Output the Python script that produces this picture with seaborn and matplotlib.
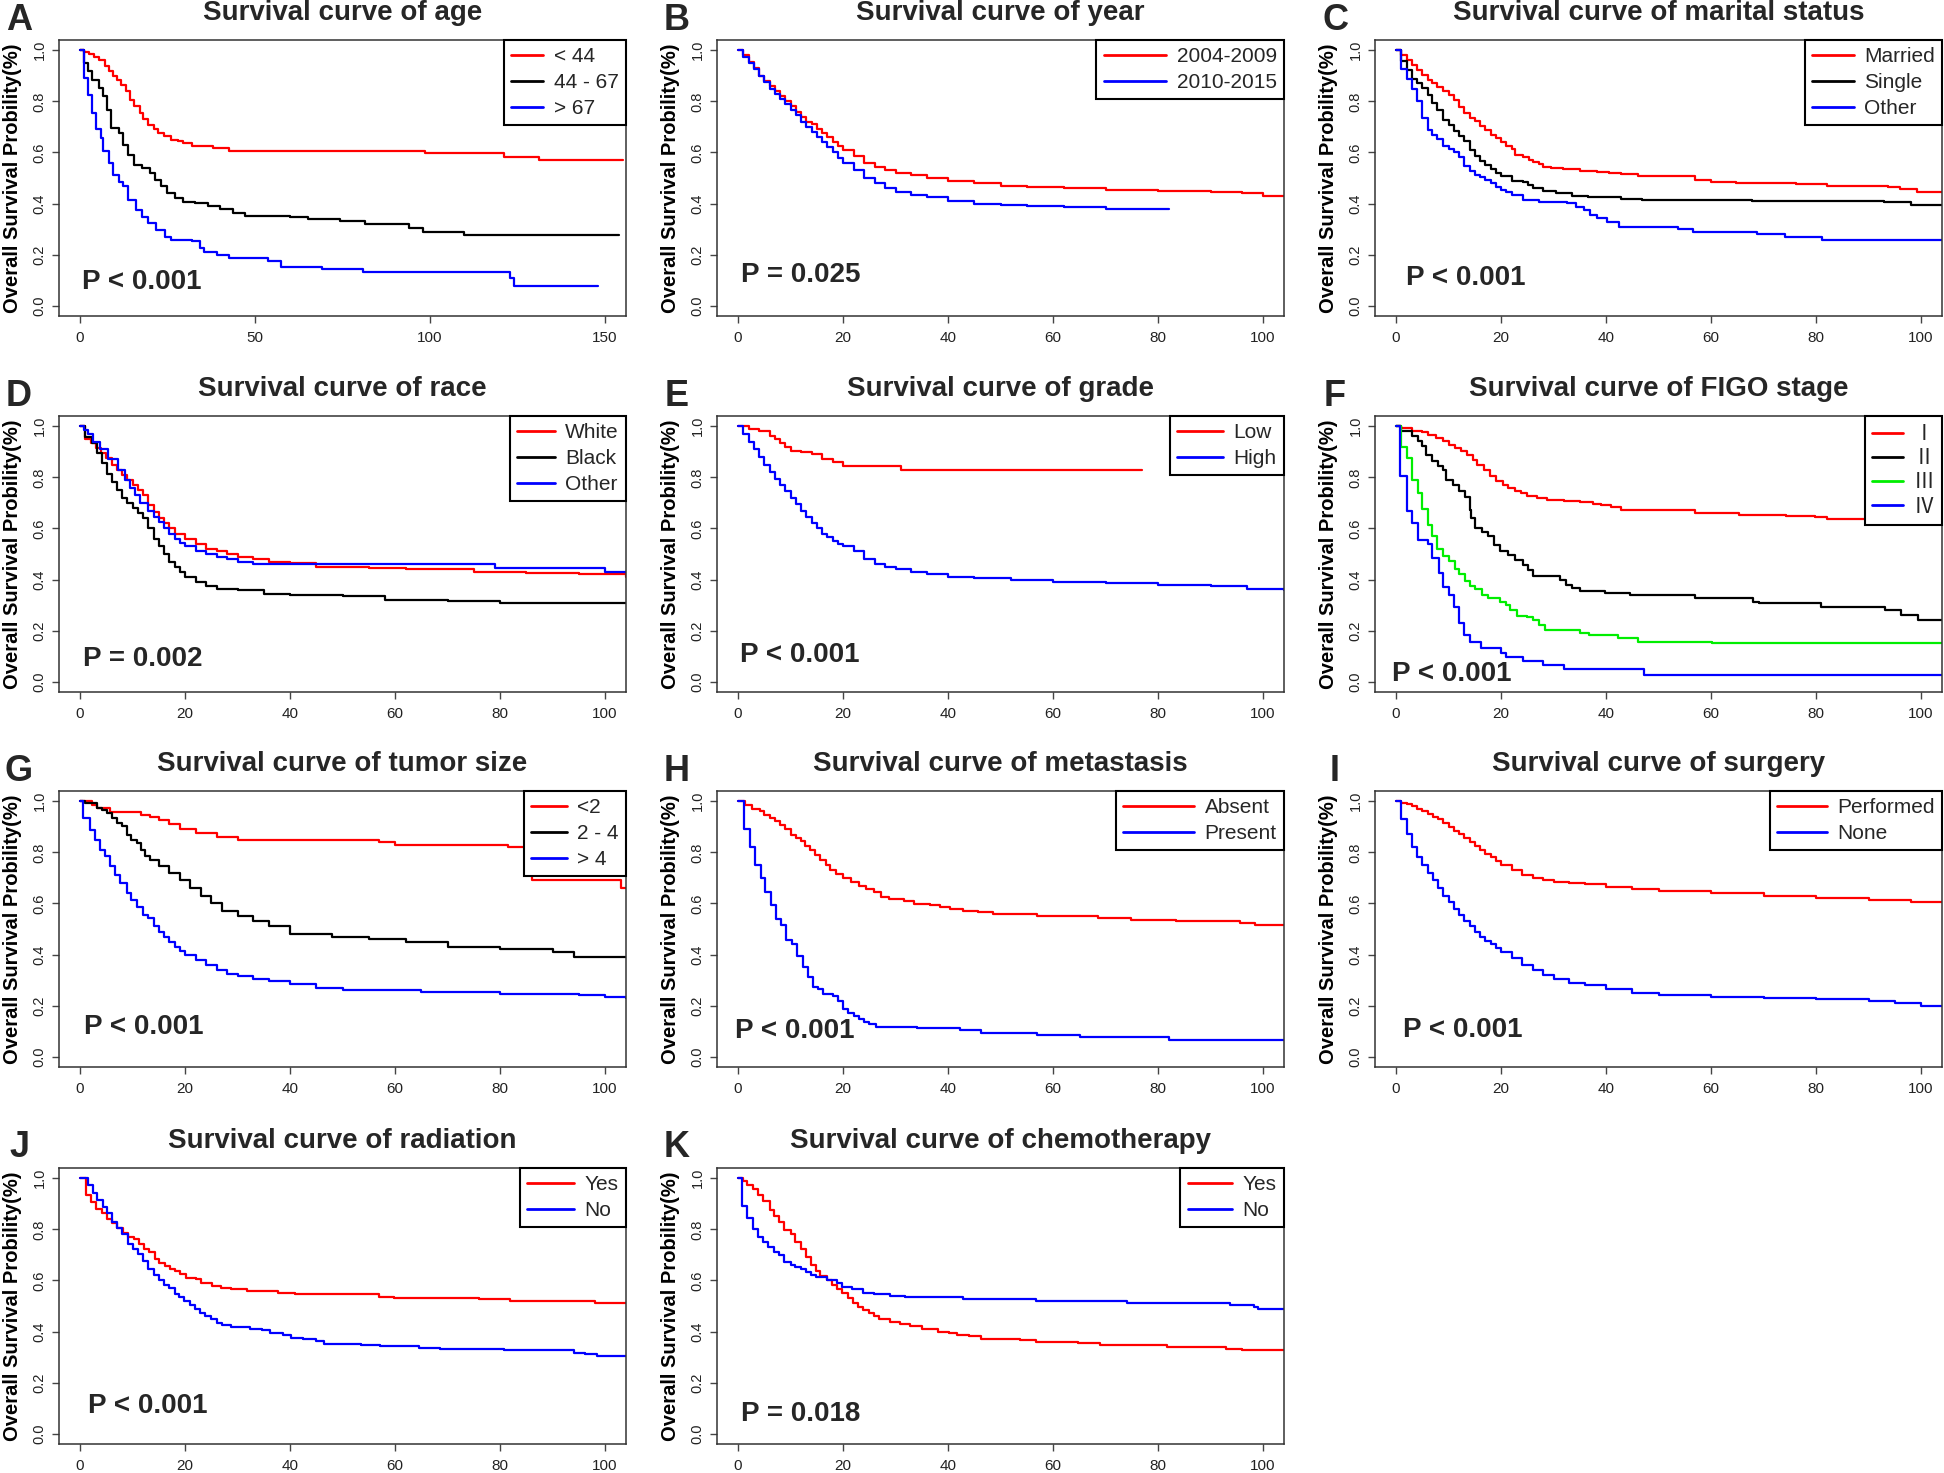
import matplotlib
matplotlib.use('Agg')
import matplotlib.pyplot as plt
from matplotlib import font_manager
from matplotlib.lines import Line2D
import seaborn as sns
import pandas as pd

# ===============================
# DATA
# ===============================
# A - age
age_lt44_t = [0, 1, 2.5, 4, 5.5, 7, 8.3, 9.5, 10.7, 11.8, 13, 14.2, 15.5, 17, 18, 19.5, 21, 22.4, 24, 26, 28, 29.5, 32, 38, 42.5, 60, 98.6, 121, 131, 155]
age_lt44_s = [1.0, 0.995, 0.985, 0.975, 0.96, 0.94, 0.918, 0.9, 0.885, 0.865, 0.84, 0.806, 0.78, 0.754, 0.73, 0.708, 0.69, 0.676, 0.665, 0.65, 0.643, 0.637, 0.624, 0.617, 0.607, 0.604, 0.597, 0.584, 0.571, 0.571]
age_mid_t = [0, 1.2, 2.4, 3.5, 5.3, 6.5, 7.7, 8.9, 11.2, 12.4, 13.6, 15.3, 17.7, 20, 21.3, 23, 24.8, 27.2, 29.5, 32.8, 36.6, 40, 43.7, 47.2, 60, 65, 74.4, 81.5, 93.9, 98, 109.8, 154]
age_mid_s = [1.0, 0.95, 0.918, 0.885, 0.852, 0.82, 0.767, 0.695, 0.676, 0.63, 0.59, 0.552, 0.539, 0.519, 0.493, 0.467, 0.44, 0.42, 0.408, 0.401, 0.39, 0.378, 0.365, 0.352, 0.346, 0.339, 0.33, 0.32, 0.303, 0.29, 0.277, 0.277]
age_gt67_t = [0, 1.2, 2.4, 3.5, 4.7, 5.9, 6.5, 8.3, 9.4, 11.2, 12.4, 13.6, 15.9, 17.7, 19.5, 21.8, 24.2, 26, 31.9, 34.3, 35.4, 39, 42.5, 53.7, 57.3, 69, 80.9, 122.8, 124, 148]
age_gt67_s = [1.0, 0.89, 0.826, 0.754, 0.69, 0.656, 0.604, 0.558, 0.512, 0.486, 0.467, 0.414, 0.375, 0.349, 0.323, 0.297, 0.27, 0.258, 0.255, 0.225, 0.212, 0.199, 0.186, 0.176, 0.153, 0.142, 0.133, 0.107, 0.078, 0.078]

# B - year
yr_0409_t = [0, 1, 2, 3, 4, 5, 6, 7, 8, 9, 10, 11, 12, 13, 14, 15, 16, 17, 18, 19, 20, 22, 24, 26, 28, 30, 33, 36, 40, 45, 50, 55, 62, 70, 80, 90, 96, 100, 104]
yr_0409_s = [1.0, 0.98, 0.955, 0.93, 0.9, 0.88, 0.86, 0.84, 0.82, 0.8, 0.78, 0.76, 0.74, 0.72, 0.71, 0.69, 0.675, 0.66, 0.64, 0.625, 0.61, 0.585, 0.56, 0.545, 0.53, 0.52, 0.51, 0.5, 0.49, 0.48, 0.47, 0.465, 0.46, 0.455, 0.45, 0.445, 0.44, 0.43, 0.43]
yr_1015_t = [0, 1, 2, 3, 4, 5, 6, 7, 8, 9, 10, 11, 12, 13, 14, 15, 16, 17, 18, 19, 20, 22, 24, 26, 28, 30, 33, 36, 40, 45, 50, 55, 62, 70, 82]
yr_1015_s = [1.0, 0.975, 0.95, 0.925, 0.9, 0.875, 0.85, 0.83, 0.81, 0.79, 0.765, 0.745, 0.72, 0.7, 0.68, 0.66, 0.64, 0.62, 0.6, 0.58, 0.56, 0.53, 0.5, 0.48, 0.46, 0.445, 0.435, 0.425, 0.41, 0.4, 0.395, 0.39, 0.385, 0.38, 0.38]

# C - marital status
mar_married_t = [0, 1, 2, 3, 4, 5, 6, 6.9, 7.9, 8.9, 10, 11, 12, 13, 14, 15, 16, 17, 18, 19, 20, 21, 22, 22.7, 24.1, 25.3, 26, 27.2, 28, 29.6, 31.9, 35, 38.2, 40.5, 42.9, 46, 57, 60, 64.8, 76.1, 82, 93.7, 96, 99.2, 104]
mar_married_s = [1.0, 0.983, 0.963, 0.944, 0.924, 0.905, 0.885, 0.872, 0.856, 0.839, 0.826, 0.807, 0.778, 0.754, 0.735, 0.722, 0.702, 0.689, 0.669, 0.656, 0.639, 0.624, 0.614, 0.591, 0.582, 0.571, 0.562, 0.556, 0.545, 0.541, 0.535, 0.526, 0.523, 0.519, 0.516, 0.506, 0.493, 0.486, 0.48, 0.476, 0.469, 0.464, 0.456, 0.447, 0.447]
mar_single_t = [0, 1, 2, 3, 4, 5, 6, 6.9, 7.9, 8.9, 10, 11, 12, 13, 14, 15, 16, 17, 18, 19, 20, 22, 24.1, 25.1, 26, 28, 30.4, 33.5, 36.6, 40.5, 42.9, 46.8, 67.9, 92.9, 98, 104]
mar_single_s = [1.0, 0.957, 0.922, 0.889, 0.872, 0.852, 0.826, 0.793, 0.765, 0.728, 0.706, 0.682, 0.663, 0.643, 0.608, 0.585, 0.565, 0.549, 0.536, 0.519, 0.506, 0.489, 0.483, 0.471, 0.46, 0.45, 0.443, 0.431, 0.427, 0.425, 0.418, 0.414, 0.41, 0.405, 0.395, 0.395]
mar_other_t = [0, 1, 2, 3, 4, 5, 6, 6.9, 7.9, 8.9, 10, 11, 12, 13, 14, 15, 16, 17, 18, 19, 20, 21, 22, 24.1, 27.2, 32.6, 34.3, 35.8, 37, 38.2, 40.1, 42.5, 53.8, 56.6, 68.7, 74.1, 81.2, 104]
mar_other_s = [1.0, 0.927, 0.889, 0.85, 0.803, 0.735, 0.686, 0.669, 0.652, 0.624, 0.614, 0.6, 0.582, 0.546, 0.526, 0.513, 0.502, 0.491, 0.48, 0.463, 0.454, 0.445, 0.435, 0.415, 0.405, 0.401, 0.388, 0.375, 0.356, 0.342, 0.329, 0.31, 0.299, 0.29, 0.279, 0.268, 0.258, 0.258]

# D - race
race_white_t = [0, 1, 2, 3, 4, 5, 6, 7, 8, 9, 10, 11, 12, 13, 14, 15, 16, 17, 18, 20, 22, 24, 26, 28, 30, 33, 36, 40, 45, 55, 62, 75, 85, 95, 104]
race_white_s = [1.0, 0.95, 0.933, 0.914, 0.895, 0.875, 0.85, 0.829, 0.81, 0.79, 0.77, 0.75, 0.73, 0.69, 0.665, 0.64, 0.62, 0.6, 0.58, 0.56, 0.54, 0.52, 0.51, 0.5, 0.49, 0.48, 0.47, 0.465, 0.45, 0.445, 0.44, 0.43, 0.425, 0.42, 0.41]
race_black_t = [0, 1, 2.2, 3.2, 4.2, 5.2, 6, 7, 8, 9, 10, 11, 12, 13, 14, 15, 16, 17, 18, 19, 20, 22, 24, 26, 30, 35, 40, 50, 58, 70, 80, 104]
race_black_s = [1.0, 0.958, 0.933, 0.894, 0.855, 0.815, 0.78, 0.75, 0.72, 0.7, 0.68, 0.66, 0.64, 0.6, 0.56, 0.53, 0.5, 0.47, 0.45, 0.43, 0.41, 0.39, 0.375, 0.365, 0.36, 0.345, 0.34, 0.335, 0.32, 0.318, 0.31, 0.31]
race_other_t = [0, 0.7, 1.6, 2.5, 3.8, 5.4, 7.3, 8.5, 9.5, 10.5, 11.5, 12.9, 14, 15, 16, 17, 18, 19, 20, 22, 24, 26, 28, 30, 33, 79, 100, 104]
race_other_s = [1.0, 0.984, 0.97, 0.94, 0.91, 0.87, 0.83, 0.79, 0.76, 0.73, 0.7, 0.67, 0.645, 0.625, 0.6, 0.58, 0.56, 0.545, 0.53, 0.51, 0.5, 0.49, 0.48, 0.47, 0.46, 0.445, 0.43, 0.43]

# E - grade
grade_low_t = [0, 2, 4, 6, 7, 8, 9, 10, 12, 14, 16, 18, 20, 31, 77]
grade_low_s = [1.0, 0.99, 0.98, 0.96, 0.95, 0.935, 0.92, 0.905, 0.9, 0.89, 0.87, 0.86, 0.845, 0.827, 0.827]
grade_high_t = [0, 1, 2, 3, 4, 5, 6, 7, 8, 9, 10, 11, 12, 13, 14, 15, 16, 17, 18, 19, 20, 22, 24, 26, 28, 30, 33, 36, 40, 45, 52, 60, 70, 80, 90, 97, 104]
grade_high_s = [1.0, 0.97, 0.94, 0.91, 0.88, 0.85, 0.82, 0.795, 0.77, 0.745, 0.72, 0.695, 0.67, 0.645, 0.62, 0.6, 0.58, 0.565, 0.55, 0.54, 0.53, 0.51, 0.48, 0.46, 0.45, 0.44, 0.43, 0.42, 0.41, 0.405, 0.4, 0.39, 0.385, 0.38, 0.375, 0.365, 0.36]

# F - FIGO stage
figo1_t = [0, 1, 3, 5, 6, 7.7, 8.9, 10, 11.2, 12.4, 13.6, 14.7, 15.5, 16.7, 17.9, 19, 20.3, 21.4, 22.6, 23.8, 24.9, 26.9, 28.8, 32, 35, 37.5, 39, 41, 42.9, 46, 57, 65.3, 74.3, 79.8, 82.1, 98.5, 104]
figo1_s = [1.0, 0.993, 0.983, 0.978, 0.967, 0.954, 0.944, 0.928, 0.915, 0.902, 0.889, 0.869, 0.85, 0.83, 0.804, 0.784, 0.771, 0.758, 0.745, 0.739, 0.728, 0.719, 0.712, 0.706, 0.703, 0.695, 0.69, 0.682, 0.673, 0.671, 0.66, 0.654, 0.65, 0.643, 0.637, 0.63, 0.63]
figo2_t = [0, 1, 3, 4.2, 5, 5.7, 6.9, 8, 8.9, 9.6, 10.8, 12, 13.2, 14, 14.3, 15.1, 16.3, 17.5, 18.7, 19.8, 21.4, 22.6, 24.1, 25.2, 26.1, 28.8, 31.2, 32.4, 33.5, 35.1, 39.8, 44.5, 57, 68, 69.1, 80.9, 93.1, 96.2, 99.4, 104]
figo2_s = [1.0, 0.98, 0.961, 0.941, 0.922, 0.889, 0.863, 0.843, 0.83, 0.791, 0.771, 0.745, 0.725, 0.673, 0.641, 0.601, 0.588, 0.569, 0.536, 0.51, 0.497, 0.477, 0.458, 0.438, 0.414, 0.412, 0.399, 0.379, 0.366, 0.357, 0.346, 0.34, 0.327, 0.314, 0.307, 0.294, 0.281, 0.261, 0.242, 0.242]
figo3_t = [0, 1, 2, 3.1, 4.2, 5, 6, 6.9, 7.9, 8.9, 10, 11.2, 12, 13.2, 14.1, 15.1, 16.3, 17.5, 19.8, 21, 21.8, 23, 24.9, 26.1, 27.3, 28.4, 35.1, 36.7, 42.2, 46, 60.2, 104]
figo3_s = [1.0, 0.919, 0.876, 0.791, 0.739, 0.676, 0.614, 0.571, 0.519, 0.493, 0.473, 0.44, 0.422, 0.396, 0.373, 0.362, 0.34, 0.327, 0.314, 0.301, 0.281, 0.259, 0.255, 0.242, 0.222, 0.203, 0.192, 0.183, 0.17, 0.157, 0.15, 0.15]
figo4_t = [0, 0.8, 2, 3.1, 4.2, 6.1, 6.9, 8.1, 8.9, 10, 11, 12, 13, 14.1, 16.1, 20, 21, 24.1, 28, 32, 47.3, 104]
figo4_s = [1.0, 0.804, 0.667, 0.621, 0.553, 0.54, 0.484, 0.425, 0.37, 0.34, 0.294, 0.229, 0.183, 0.157, 0.131, 0.111, 0.098, 0.082, 0.065, 0.05, 0.026, 0.026]

# G - tumor size
size_lt2_t = [0, 2.2, 3.2, 5.7, 11.7, 13.3, 15, 17, 19, 22, 26, 30, 57, 60, 81.5, 86, 103, 104]
size_lt2_s = [1.0, 0.987, 0.974, 0.958, 0.948, 0.937, 0.925, 0.91, 0.89, 0.875, 0.86, 0.85, 0.84, 0.83, 0.82, 0.69, 0.66, 0.66]
size_mid_t = [0, 1, 3.2, 4.1, 5.1, 6, 7, 8, 8.9, 9.8, 10.8, 11.7, 12.4, 13.3, 15, 17, 19, 21, 23, 25, 27, 30, 33, 36, 40, 48, 55, 62, 70, 80, 90, 94, 104]
size_mid_s = [1.0, 0.993, 0.974, 0.967, 0.954, 0.935, 0.915, 0.902, 0.869, 0.85, 0.837, 0.81, 0.784, 0.771, 0.745, 0.72, 0.69, 0.66, 0.63, 0.6, 0.57, 0.55, 0.53, 0.51, 0.48, 0.47, 0.46, 0.45, 0.43, 0.42, 0.41, 0.39, 0.39]
size_gt4_t = [0, 0.6, 1.9, 2.9, 3.8, 4.8, 5.7, 6.7, 7.6, 8.9, 9.8, 10.8, 12, 13, 14, 15, 16, 17, 18, 19, 20, 22, 24, 26, 28, 30, 33, 36, 40, 45, 50, 65, 80, 95, 100, 104]
size_gt4_s = [1.0, 0.935, 0.889, 0.85, 0.81, 0.784, 0.745, 0.712, 0.68, 0.64, 0.614, 0.588, 0.556, 0.542, 0.51, 0.49, 0.47, 0.45, 0.43, 0.415, 0.4, 0.38, 0.36, 0.34, 0.325, 0.315, 0.305, 0.295, 0.285, 0.27, 0.26, 0.255, 0.245, 0.24, 0.235, 0.23]

# H - metastasis
met_absent_t = [0, 1.4, 2.6, 4.1, 5, 6, 7, 8, 9, 10, 11, 12, 12.8, 13.8, 14.7, 15.7, 16.7, 17.6, 18.6, 20, 21.5, 23, 24.4, 25.9, 27.3, 28.8, 31.7, 33.6, 36.5, 38.5, 40.4, 42.8, 45.7, 48.6, 56.9, 68.5, 74.8, 83.5, 95.6, 98.5, 104]
met_absent_s = [1.0, 0.984, 0.971, 0.961, 0.948, 0.935, 0.922, 0.908, 0.891, 0.869, 0.856, 0.843, 0.824, 0.81, 0.791, 0.771, 0.752, 0.732, 0.716, 0.699, 0.682, 0.667, 0.656, 0.643, 0.627, 0.617, 0.608, 0.599, 0.592, 0.586, 0.578, 0.571, 0.565, 0.559, 0.552, 0.542, 0.536, 0.532, 0.525, 0.516, 0.516]
met_present_t = [0, 1.2, 2.3, 3.3, 4.4, 5.2, 6.2, 7.2, 8.2, 9.1, 10.2, 11.2, 12.3, 13.3, 14.2, 15.2, 16.2, 18.1, 19.1, 20, 21, 22, 23, 24, 25, 26.3, 34.1, 42.3, 46.2, 56.9, 65.1, 82, 104]
met_present_s = [1.0, 0.891, 0.821, 0.749, 0.699, 0.643, 0.595, 0.539, 0.516, 0.458, 0.442, 0.395, 0.35, 0.314, 0.275, 0.264, 0.246, 0.238, 0.22, 0.186, 0.17, 0.16, 0.146, 0.137, 0.128, 0.118, 0.111, 0.105, 0.092, 0.086, 0.078, 0.065, 0.065]

# I - surgery
surg_yes_t = [0, 1, 2, 3, 4, 5, 6, 7, 8, 9, 10, 11, 12, 13, 14, 15, 16, 17, 18, 19, 20, 22, 24, 26, 28, 30, 33, 36, 40, 45, 50, 60, 70, 80, 90, 98, 104]
surg_yes_s = [1.0, 0.995, 0.99, 0.98, 0.97, 0.96, 0.95, 0.94, 0.93, 0.915, 0.9, 0.885, 0.87, 0.855, 0.84, 0.825, 0.81, 0.795, 0.78, 0.765, 0.75, 0.73, 0.71, 0.7, 0.69, 0.685, 0.68, 0.675, 0.665, 0.655, 0.65, 0.64, 0.63, 0.62, 0.615, 0.605, 0.605]
surg_no_t = [0, 1, 2, 3, 4, 5, 6, 7, 8, 9, 10, 11, 12, 13, 14, 15, 16, 17, 18, 19, 20, 22, 24, 26, 28, 30, 33, 36, 40, 45, 50, 60, 70, 80, 90, 95, 100, 104]
surg_no_s = [1.0, 0.93, 0.87, 0.82, 0.78, 0.75, 0.72, 0.69, 0.66, 0.63, 0.605, 0.58, 0.555, 0.53, 0.51, 0.49, 0.47, 0.455, 0.44, 0.425, 0.41, 0.385, 0.36, 0.34, 0.32, 0.305, 0.29, 0.28, 0.265, 0.25, 0.24, 0.235, 0.23, 0.225, 0.22, 0.21, 0.2, 0.2]

# J - radiation
rad_yes_t = [0, 1.2, 2.1, 3.1, 4.2, 5.1, 6.1, 7.1, 8.1, 9.1, 10.2, 11.2, 12.2, 13.1, 14.2, 15.1, 16.1, 17.2, 18.1, 19.1, 20.1, 22, 23.1, 25.2, 26.8, 28.7, 31.9, 37.8, 40.9, 56.9, 59.8, 76, 81.9, 98, 104]
rad_yes_s = [1.0, 0.933, 0.907, 0.881, 0.864, 0.842, 0.825, 0.805, 0.786, 0.77, 0.764, 0.742, 0.722, 0.711, 0.685, 0.668, 0.655, 0.646, 0.636, 0.627, 0.61, 0.604, 0.59, 0.578, 0.572, 0.565, 0.557, 0.552, 0.548, 0.535, 0.531, 0.526, 0.52, 0.513, 0.513]
rad_no_t = [0, 1.6, 2.4, 3.3, 4.3, 5.1, 6.1, 7.1, 8, 9.1, 10.1, 11, 12, 13, 14, 15, 16, 16.9, 18, 18.9, 19.9, 20.9, 21.9, 22.9, 23.9, 24.9, 26, 27, 28.8, 32.3, 34.6, 36.2, 38.6, 40.2, 42.5, 44.9, 46.5, 53.5, 57.1, 64.6, 68.5, 80.7, 94.1, 96.1, 98.4, 104]
rad_no_s = [1.0, 0.973, 0.943, 0.914, 0.888, 0.862, 0.829, 0.805, 0.781, 0.744, 0.722, 0.702, 0.676, 0.646, 0.623, 0.601, 0.581, 0.57, 0.548, 0.535, 0.52, 0.503, 0.487, 0.474, 0.461, 0.448, 0.433, 0.427, 0.418, 0.411, 0.405, 0.396, 0.385, 0.376, 0.371, 0.363, 0.352, 0.346, 0.342, 0.337, 0.333, 0.326, 0.317, 0.311, 0.303, 0.303]

# K - chemotherapy
chemo_yes_t = [0, 1, 1.8, 2.9, 3.9, 4.8, 6, 6.9, 7.8, 8.8, 10, 10.9, 12, 12.9, 13.9, 14.8, 15.7, 16.9, 17.9, 18.9, 19.9, 20.9, 21.9, 22.9, 23.9, 24.9, 25.9, 26.9, 28.9, 30.8, 32.7, 35, 38, 40.2, 41.7, 44, 46.3, 53.8, 56.8, 59.8, 64.7, 68.9, 81.7, 93, 96, 104]
chemo_yes_s = [1.0, 0.99, 0.974, 0.956, 0.936, 0.909, 0.877, 0.851, 0.828, 0.798, 0.78, 0.75, 0.724, 0.691, 0.661, 0.635, 0.619, 0.602, 0.583, 0.565, 0.55, 0.532, 0.512, 0.495, 0.485, 0.473, 0.46, 0.45, 0.439, 0.43, 0.42, 0.411, 0.4, 0.394, 0.387, 0.381, 0.372, 0.365, 0.361, 0.359, 0.356, 0.348, 0.339, 0.332, 0.326, 0.326]
chemo_no_t = [0, 0.7, 1.8, 2.8, 3.8, 4.8, 5.8, 6.9, 7.8, 8.8, 10, 10.9, 12, 12.9, 13.9, 14.8, 16.9, 18.9, 19.9, 21.8, 23.9, 25.9, 28.9, 31.9, 42.9, 56.8, 74, 93.7, 98.3, 99, 104]
chemo_no_s = [1.0, 0.89, 0.845, 0.8, 0.769, 0.75, 0.73, 0.71, 0.698, 0.671, 0.662, 0.652, 0.643, 0.632, 0.622, 0.613, 0.6, 0.589, 0.576, 0.565, 0.551, 0.548, 0.538, 0.535, 0.528, 0.518, 0.511, 0.505, 0.495, 0.489, 0.489]

titles = ['Survival curve of age', 'Survival curve of year', 'Survival curve of marital status',
          'Survival curve of race', 'Survival curve of grade', 'Survival curve of FIGO stage',
          'Survival curve of tumor size', 'Survival curve of metastasis', 'Survival curve of surgery',
          'Survival curve of radiation', 'Survival curve of chemotherapy']
letters = ['A', 'B', 'C', 'D', 'E', 'F', 'G', 'H', 'I', 'J', 'K']
pvalues = ['P < 0.001', 'P = 0.025', 'P < 0.001', 'P = 0.002', 'P < 0.001', 'P < 0.001',
           'P < 0.001', 'P < 0.001', 'P < 0.001', 'P < 0.001', 'P = 0.018']
group_labels = [['< 44', '44 - 67', '> 67'], ['2004-2009', '2010-2015'], ['Married', 'Single', 'Other'],
                ['White', 'Black', 'Other'], ['Low', 'High'], ['Ⅰ', 'Ⅱ', 'Ⅲ', 'Ⅳ'],
                ['<2', '2 - 4', '> 4'], ['Absent', 'Present'], ['Performed', 'None'],
                ['Yes', 'No'], ['Yes', 'No']]
curves = [
    [(age_lt44_t, age_lt44_s), (age_mid_t, age_mid_s), (age_gt67_t, age_gt67_s)],
    [(yr_0409_t, yr_0409_s), (yr_1015_t, yr_1015_s)],
    [(mar_married_t, mar_married_s), (mar_single_t, mar_single_s), (mar_other_t, mar_other_s)],
    [(race_white_t, race_white_s), (race_black_t, race_black_s), (race_other_t, race_other_s)],
    [(grade_low_t, grade_low_s), (grade_high_t, grade_high_s)],
    [(figo1_t, figo1_s), (figo2_t, figo2_s), (figo3_t, figo3_s), (figo4_t, figo4_s)],
    [(size_lt2_t, size_lt2_s), (size_mid_t, size_mid_s), (size_gt4_t, size_gt4_s)],
    [(met_absent_t, met_absent_s), (met_present_t, met_present_s)],
    [(surg_yes_t, surg_yes_s), (surg_no_t, surg_no_s)],
    [(rad_yes_t, rad_yes_s), (rad_no_t, rad_no_s)],
    [(chemo_yes_t, chemo_yes_s), (chemo_no_t, chemo_no_s)],
]

# ===============================
# LAYOUT / STYLE
# ===============================
RED, BLACK, GREEN, BLUE = '#FF0000', '#000000', '#00EE00', '#0000FF'
colors3 = [RED, BLACK, BLUE]
colors2 = [RED, BLUE]
panel_colors = [colors3, colors2, colors3, colors3, colors2, [RED, BLACK, GREEN, BLUE],
                colors3, colors2, colors2, colors2, colors2]
# position of the P-value text (data coords) and legend handle length
p_pos = [(0.5, 0.093), (0.5, 0.12), (2, 0.11), (0.6, 0.09), (0.3, 0.105), (-0.7, 0.03),
         (0.8, 0.115), (-0.6, 0.10), (1.4, 0.105), (1.5, 0.11), (0.5, 0.076)]
handle_len = [1.55, 3.0, 2.0, 1.8, 2.2, 1.5, 1.7, 3.4, 2.4, 2.25, 2.15]

W, H = 1944, 1473
col_left = [59, 717, 1375]
row_top = [40, 416, 791, 1168]
ax_w, ax_h = 567, 276

sns.set_theme(style='white')
available = {f.name for f in font_manager.fontManager.ttflist}
NARROW = 'Liberation Sans Narrow' if 'Liberation Sans Narrow' in available else 'Liberation Sans'
plt.rcParams['font.family'] = ['Liberation Sans', 'DejaVu Sans']

fig = plt.figure(figsize=(W / 100, H / 100), dpi=100)
fig.patch.set_facecolor('white')

for i in range(11):
    r, c = divmod(i, 3)
    ax = fig.add_axes([col_left[c] / W, 1 - (row_top[r] + ax_h) / H, ax_w / W, ax_h / H])

    labels = group_labels[i]
    rows = []
    for lab, (t, s) in zip(labels, curves[i]):
        for ti, si in zip(t, s):
            rows.append((lab, ti, si))
    df = pd.DataFrame(rows, columns=['group', 'time', 'surv'])

    sns.lineplot(data=df, x='time', y='surv', hue='group', hue_order=labels,
                 palette=panel_colors[i], estimator=None, sort=False,
                 drawstyle='steps-post', linewidth=1.6, legend=False, ax=ax)

    if i == 0:
        ax.set_xlim(-6, 156)
        ax.set_xticks([0, 50, 100, 150])
    else:
        ax.set_xlim(-4, 104)
        ax.set_xticks([0, 20, 40, 60, 80, 100])
    ax.set_ylim(-0.04, 1.04)
    ax.set_yticks([0, 0.2, 0.4, 0.6, 0.8, 1.0])
    ax.set_yticklabels(['0.0', '0.2', '0.4', '0.6', '0.8', '1.0'], rotation=90, va='center')
    for lbl in ax.get_xticklabels():
        lbl.set_family(NARROW)
        lbl.set_fontsize(11)
    for lbl in ax.get_yticklabels():
        lbl.set_fontsize(10.5)
    ax.tick_params(axis='both', direction='out', length=5, width=1.0, color='#444444',
                   labelcolor='#222222', left=True, bottom=True, pad=4)
    ax.tick_params(axis='x', pad=6)
    for sp in ax.spines.values():
        sp.set_color('#333333')
        sp.set_linewidth(1.1)

    ax.set_xlabel('')
    ax.set_ylabel('Overall Survival Probility(%)', fontsize=14.5, fontweight='bold', color='black')
    ax.yaxis.set_label_coords(-37 / ax_w, 0.5)

    ax.text(0.5, 1 + 27 / ax_h, titles[i], transform=ax.transAxes, ha='center', va='center',
            fontsize=20, fontweight='bold', family=NARROW)
    ax.text(-40 / ax_w, 1 + 20 / ax_h, letters[i], transform=ax.transAxes, ha='center',
            va='center', fontsize=26, fontweight='bold', family=NARROW)
    ax.text(p_pos[i][0], p_pos[i][1], pvalues[i], ha='left', va='center',
            fontsize=20, fontweight='bold', family=NARROW)

    handles = [Line2D([0], [0], color=col, lw=2) for col in panel_colors[i]]
    if i == 5:
        prop = font_manager.FontProperties(family=['Noto Sans CJK SC', 'DejaVu Sans'], size=15)
        spacing = 0.1
    else:
        prop = font_manager.FontProperties(family=NARROW, size=15)
        spacing = 0.33
    leg = ax.legend(handles, labels, loc='upper right', borderaxespad=0, frameon=True,
                    fancybox=False, framealpha=1, edgecolor='black', prop=prop,
                    handlelength=handle_len[i], handletextpad=0.5, labelspacing=spacing,
                    borderpad=0.35)
    leg.get_frame().set_linewidth(1.5)

fig.savefig('out.png', dpi=100)
